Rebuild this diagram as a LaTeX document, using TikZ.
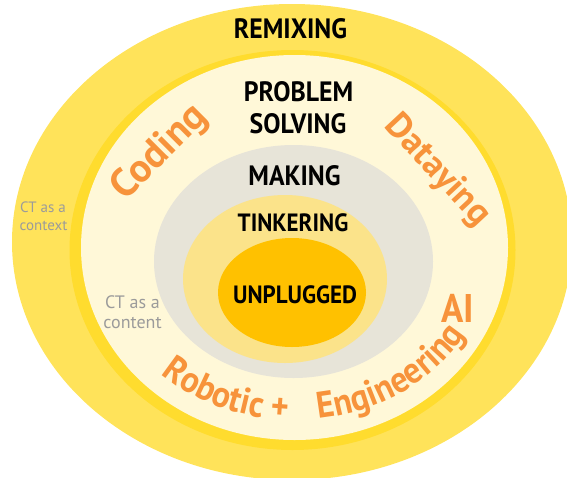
\documentclass[tikz,border=0pt]{standalone}
\usepackage{fontspec}
\setmainfont{PT Sans}
\newfontfamily\lblfont[FakeStretch=0.92]{PT Sans}
\usetikzlibrary{decorations.text}
\definecolor{outery}{HTML}{FFE35A}
\definecolor{ringy}{HTML}{FFDC2E}
\definecolor{creamy}{HTML}{FFF8D8}
\definecolor{grayring}{HTML}{E7E4D8}
\definecolor{tinky}{HTML}{FBE38A}
\definecolor{unply}{HTML}{FFC100}
\definecolor{orangetxt}{HTML}{F7933B}
\definecolor{graytxt}{HTML}{9B9B9B}
\begin{document}
\begin{tikzpicture}[x=1pt,y=1pt,
  lbl/.style={font=\lblfont\bfseries\fontsize{28}{30}\selectfont, text=black, inner sep=0pt, anchor=base},
  lblsmall/.style={lbl, font=\lblfont\bfseries\fontsize{25}{27}\selectfont},
  ctsmall/.style={font=\fontsize{15}{17}\selectfont, text=graytxt, inner sep=0pt, anchor=base},
  ctbig/.style={font=\fontsize{18}{20}\selectfont, text=graytxt, inner sep=0pt, anchor=base},
  orlbl/.style={font=\bfseries\fontsize{40}{40}\selectfont, text=orangetxt, inner sep=0pt}]
\useasboundingbox (0,0) rectangle (567,-477);
\begin{scope}
\clip (0,0) rectangle (567,-477);
\fill[outery] (292,-242) ellipse [x radius=280pt, y radius=238pt];
\fill[ringy] (292.5,-250) ellipse [x radius=223pt, y radius=200pt];
\fill[creamy] (294.5,-247.5) ellipse [x radius=213.5pt, y radius=192.5pt];
\fill[grayring] (293.5,-261.5) ellipse [x radius=139.5pt, y radius=116.5pt];
\fill[tinky] (285,-279) ellipse [x radius=102pt, y radius=84pt];
\fill[unply] (292,-292.5) ellipse [x radius=74pt, y radius=54.5pt];
\end{scope}
\node[lbl] (remix) at (290.5,-38) {REMIXING};
\node[lbl] (probA) at (298.5,-101) {PROBLEM};
\node[lbl] (probB) at (298,-133) {SOLVING};
\node[lbl] (making) at (294.5,-185) {MAKING};
\node[lblsmall] (tinker) at (293,-231) {TINKERING};
\node[lblsmall] (unplug) at (295,-303) {UNPLUGGED};
\node[orlbl, anchor=base, font=\lblfont\bfseries\fontsize{40}{40}\selectfont] (ai) at (457.5,-322) {AI};
\node[ctsmall] (ctxA) at (43,-212) {CT as a};
\node[ctsmall] (ctxB) at (43.5,-230) {context};
\node[ctbig] (cntA) at (132.5,-308) {CT as a};
\node[ctbig] (cntB) at (132.5,-328) {content};
\node[orlbl, rotate=45] (coding) at (160,-153) {Coding};
\node[orlbl, rotate=-47, font=\bfseries\fontsize{36}{36}\selectfont] (datay) at (437,-171) {Dataying};
\path[decorate, decoration={text along path, text color=orangetxt,
  text={|\lblfont\bfseries\fontsize{37}{37}\selectfont|Robotic +}, text align=center}]
  (295,-250) ++(215:196pt and 170pt) arc[start angle=215, end angle=279, x radius=196pt, y radius=170pt];
\path[decorate, decoration={text along path, text color=orangetxt,
  text={|\lblfont\bfseries\fontsize{37}{37}\selectfont|Engineering}, text align=center}]
  (295,-250) ++(270:196pt and 170pt) arc[start angle=270, end angle=338, x radius=196pt, y radius=170pt];
\end{tikzpicture}
\end{document}
